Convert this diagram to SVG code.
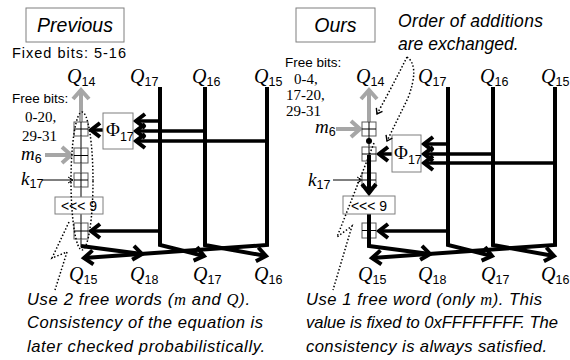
<svg xmlns="http://www.w3.org/2000/svg" width="570" height="360" viewBox="0 0 570 360">
<defs>
<style>
.thick{stroke:#000;stroke-width:4;fill:none}
.med{stroke:#000;stroke-width:3.5;fill:none}
.gray{stroke:#a6a6a6;stroke-width:4;fill:none}
.thin{stroke:#000;stroke-width:1;fill:none}
.box{fill:#fff;stroke:#7f7f7f;stroke-width:1}
.add{fill:#fff;stroke:#595959;stroke-width:1}
.dots{stroke:#000;stroke-width:1.5;stroke-dasharray:1.5 2;fill:none}
.sans{font-family:"Liberation Sans",Arial,sans-serif}
.serif{font-family:"Liberation Serif","Times New Roman",serif}
.title{font-family:"Liberation Sans",Arial,sans-serif;font-style:italic;font-size:19.5px;text-anchor:middle}
.note{font-family:"Liberation Sans",Arial,sans-serif;font-style:italic;font-size:16.6px}
.lbl{font-family:"Liberation Sans",Arial,sans-serif;font-size:13.5px}
.num{font-family:"Liberation Serif","Times New Roman",serif;font-size:15px}
.q{font-family:"Liberation Serif","Times New Roman",serif;font-style:italic;font-size:20px}
.sub{font-family:"Liberation Sans",Arial,sans-serif;font-style:normal;font-size:12.5px}
.var{font-family:"Liberation Serif","Times New Roman",serif;font-style:italic;font-size:19px}
.phi{font-family:"Liberation Serif","Times New Roman",serif;font-size:19px}
.rot{font-family:"Liberation Sans",Arial,sans-serif;font-size:14px;text-anchor:middle}
</style>
<marker id="ah" markerUnits="userSpaceOnUse" viewBox="-14 -10 16 20" refX="0" refY="0" markerWidth="16" markerHeight="20" orient="auto" overflow="visible">
<path d="M-9,-7 L0,0 L-9,7" fill="none" stroke="#000" stroke-width="4"/>
</marker>
<marker id="ahg" markerUnits="userSpaceOnUse" viewBox="-14 -10 16 20" refX="0" refY="0" markerWidth="16" markerHeight="20" orient="auto" overflow="visible">
<path d="M-9,-8 L0,0 L-9,8" fill="none" stroke="#a6a6a6" stroke-width="4"/>
</marker>
<marker id="aht" markerUnits="userSpaceOnUse" viewBox="-8 -5 10 10" refX="0" refY="0" markerWidth="10" markerHeight="10" orient="auto" overflow="visible">
<path d="M-5,-3 L0,0 L-5,3" fill="none" stroke="#000" stroke-width="1"/>
</marker>
<marker id="ahd" markerUnits="userSpaceOnUse" viewBox="-8 -5 10 10" refX="0" refY="0" markerWidth="10" markerHeight="10" orient="auto" overflow="visible">
<path d="M-5,-3.5 L0,0 L-5,3.5" fill="none" stroke="#000" stroke-width="1.4"/>
</marker>
</defs>
<rect width="570" height="360" fill="#fff"/>

<!-- ================= LEFT PANEL (Previous) ================= -->
<g id="prev-title">
<rect class="box" x="26" y="8" width="98" height="34"/>
<text class="title" x="75" y="32">Previous</text>
</g>
<text class="lbl" x="12" y="58" style="font-size:14.5px" textLength="114" lengthAdjust="spacing">Fixed bits: 5-16</text>
<g id="prev-top-labels">
<text class="q" x="67" y="83">Q<tspan class="sub" dy="3">14</tspan></text>
<text class="q" x="130" y="83">Q<tspan class="sub" dy="3">17</tspan></text>
<text class="q" x="192" y="83">Q<tspan class="sub" dy="3">16</tspan></text>
<text class="q" x="254" y="83">Q<tspan class="sub" dy="3">15</tspan></text>
</g>
<text class="lbl" x="12" y="103">Free bits:</text>
<text class="num" x="25" y="122">0-20,</text>
<text class="num" x="22" y="141">29-31</text>
<text class="var" x="21" y="160">m<tspan class="sub" dy="3">6</tspan></text>
<text class="var" x="21" y="185">k<tspan class="sub" dy="3">17</tspan></text>

<g id="prev-connectors">
<path class="thin" d="M81,122 V247"/>
<path class="gray" d="M81,122 V90" marker-end="url(#ahg)"/>
<path class="gray" d="M45,155 H71" marker-end="url(#ahg)"/>
<path class="thin" d="M42,180 H73" marker-end="url(#aht)"/>
<path class="med" d="M103,130 H91" marker-end="url(#ah)"/>
<path class="med" d="M160,121 H136" marker-end="url(#ah)"/>
<path class="med" d="M205,131 H136" marker-end="url(#ah)"/>
<path class="med" d="M267,141 H136" marker-end="url(#ah)"/>
<path class="med" d="M160,231 H91" marker-end="url(#ah)"/>
<path class="thick" d="M160,87 V245 L204,256" marker-end="url(#ah)"/>
<path class="thick" d="M205,87 V245 L266,256" marker-end="url(#ah)"/>
<path class="thick" d="M267,87 V245 L84,258" marker-end="url(#ah)"/>
<path class="thick" d="M81,246 L142,254" marker-end="url(#ah)"/>
</g>
<g id="prev-add1"><rect class="add" x="74" y="122" width="14" height="14"/><path class="thin" d="M74,129 H88 M81,122 V136"/></g>
<g id="prev-add2"><rect class="add" x="74" y="148" width="14" height="15"/><path class="thin" d="M74,155.5 H88 M81,148 V163"/></g>
<g id="prev-add3"><rect class="add" x="74" y="173" width="14" height="14"/><path class="thin" d="M74,180 H88 M81,173 V187"/></g>
<g id="prev-rot"><rect class="box" x="55" y="197" width="48" height="17"/><text class="rot" x="79" y="211">&lt;&lt;&lt; 9</text></g>
<g id="prev-add4"><rect class="add" x="74" y="223" width="14" height="16"/><path class="thin" d="M74,231 H88 M81,223 V239"/></g>
<g id="prev-phi"><rect class="box" x="103" y="113" width="30" height="36"/><text class="phi" x="106" y="136">Φ<tspan class="sub" dy="5">17</tspan></text></g>
<g id="prev-dots">
<ellipse class="dots" cx="82" cy="181" rx="11" ry="69"/>
<path class="dots" d="M69,222 L52,258 L67,252 L55,290"/>
</g>
<g id="prev-bottom-labels">
<text class="q" x="69" y="281">Q<tspan class="sub" dy="3">15</tspan></text>
<text class="q" x="130" y="281">Q<tspan class="sub" dy="3">18</tspan></text>
<text class="q" x="193" y="281">Q<tspan class="sub" dy="3">17</tspan></text>
<text class="q" x="254" y="281">Q<tspan class="sub" dy="3">16</tspan></text>
</g>
<text class="note" x="27" y="305" textLength="223" lengthAdjust="spacing">Use 2 free words (<tspan class="serif">m</tspan> and <tspan class="serif">Q</tspan>).</text>
<text class="note" x="27" y="328" textLength="236" lengthAdjust="spacing">Consistency of the equation is</text>
<text class="note" x="27" y="352" textLength="238" lengthAdjust="spacing">later checked probabilistically.</text>

<!-- ================= RIGHT PANEL (Ours) ================= -->
<g id="ours-title">
<rect class="box" x="296" y="8" width="79" height="34"/>
<text class="title" x="335.5" y="32">Ours</text>
</g>
<text class="note" x="398" y="27" style="font-size:17.5px" textLength="145" lengthAdjust="spacing">Order of additions</text>
<text class="note" x="398" y="50" style="font-size:17.5px">are exchanged.</text>
<text class="lbl" x="285" y="67">Free bits:</text>
<text class="num" x="294" y="84">0-4,</text>
<text class="num" x="286" y="100">17-20,</text>
<text class="num" x="286" y="116">29-31</text>
<text class="var" x="315" y="133">m<tspan class="sub" dy="3">6</tspan></text>
<text class="var" x="308" y="186">k<tspan class="sub" dy="3">17</tspan></text>
<g id="ours-top-labels">
<text class="q" x="356" y="83">Q<tspan class="sub" dy="3">14</tspan></text>
<text class="q" x="418" y="83">Q<tspan class="sub" dy="3">17</tspan></text>
<text class="q" x="480" y="83">Q<tspan class="sub" dy="3">16</tspan></text>
<text class="q" x="541" y="83">Q<tspan class="sub" dy="3">15</tspan></text>
</g>

<g id="ours-connectors">
<path class="thin" d="M369,122 V161"/>
<circle cx="369" cy="141" r="3" fill="#000"/>
<path class="gray" d="M369,122 V90" marker-end="url(#ahg)"/>
<path class="gray" d="M336,129 H360" marker-end="url(#ahg)"/>
<path class="thin" d="M333,180 H362" marker-end="url(#aht)"/>
<path class="med" d="M392,154 H379" marker-end="url(#ah)"/>
<path class="med" d="M448,144 H424" marker-end="url(#ah)"/>
<path class="med" d="M493,154 H424" marker-end="url(#ah)"/>
<path class="med" d="M555,163 H424" marker-end="url(#ah)"/>
<path class="med" d="M448,231 H379" marker-end="url(#ah)"/>
<path class="thick" d="M448,87 V245 L492,256" marker-end="url(#ah)"/>
<path class="thick" d="M493,87 V245 L554,256" marker-end="url(#ah)"/>
<path class="thick" d="M555,87 V245 L372,258" marker-end="url(#ah)"/>
</g>
<g id="ours-add1"><rect class="add" x="362" y="122" width="14" height="14"/><path class="thin" d="M362,129 H376 M369,122 V136"/></g>
<g id="ours-add2"><rect class="add" x="362" y="147" width="14" height="14"/><path class="thin" d="M362,154 H376 M369,147 V161"/></g>
<g id="ours-add3"><rect class="add" x="362" y="173" width="14" height="14"/><path class="thin" d="M362,180 H376"/></g>
<g id="ours-add4"><rect class="add" x="362" y="223" width="14" height="15"/><path class="thin" d="M362,230.5 H376"/></g>
<path class="thick" d="M369,155 V193" marker-end="url(#ah)"/>
<path class="thick" d="M369,214 V246 L430,254" marker-end="url(#ah)"/>
<g id="ours-rot"><rect class="box" x="343" y="196" width="52" height="18"/><text class="rot" x="369" y="210.5">&lt;&lt;&lt; 9</text></g>
<g id="ours-phi"><rect class="box" x="392" y="135" width="29" height="37"/><text class="phi" x="394" y="159">Φ<tspan class="sub" dy="5">17</tspan></text></g>
<g id="ours-dots">
<path class="dots" d="M407,57 Q393,85 377,114" marker-end="url(#ahd)"/>
<path class="dots" d="M407,57 Q420,66 408,98 L387,141" marker-end="url(#ahd)"/>
<path class="dots" d="M374,143 L337,237 L352,226 L333,290"/>
</g>
<g id="ours-bottom-labels">
<text class="q" x="358" y="281">Q<tspan class="sub" dy="3">15</tspan></text>
<text class="q" x="418" y="281">Q<tspan class="sub" dy="3">18</tspan></text>
<text class="q" x="481" y="281">Q<tspan class="sub" dy="3">17</tspan></text>
<text class="q" x="541" y="281">Q<tspan class="sub" dy="3">16</tspan></text>
</g>
<text class="note" x="306" y="305" textLength="236" lengthAdjust="spacing">Use 1 free word (only <tspan class="serif">m</tspan>). This</text>
<text class="note" x="306" y="328" textLength="252" lengthAdjust="spacing">value is fixed to 0xFFFFFFFF. The</text>
<text class="note" x="306" y="352" textLength="241" lengthAdjust="spacing">consistency is always satisfied.</text>
</svg>
